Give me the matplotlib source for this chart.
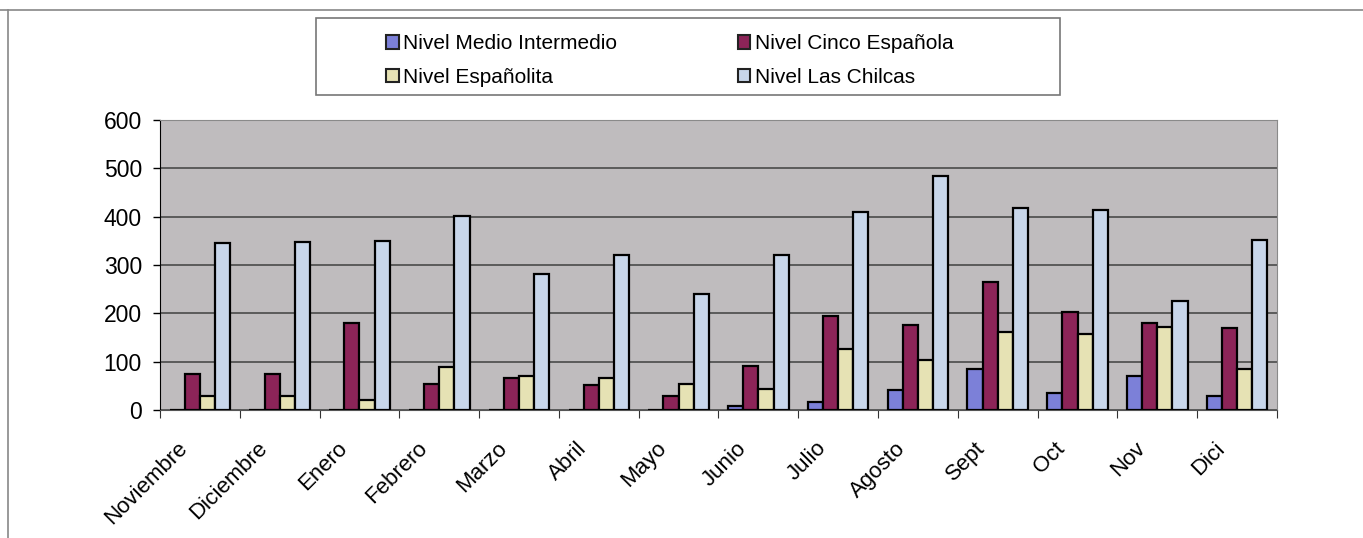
import matplotlib.pyplot as plt
import matplotlib.transforms as mtransforms
from matplotlib.patches import Rectangle, Patch
import numpy as np

plt.rcParams['font.family'] = ['Liberation Sans', 'DejaVu Sans']

meses = ['Noviembre', 'Diciembre', 'Enero', 'Febrero', 'Marzo', 'Abril', 'Mayo',
         'Junio', 'Julio', 'Agosto', 'Sept', 'Oct', 'Nov', 'Dici']
medio_intermedio = [0, 0, 0, 0, 0, 0, 0, 8, 17, 41, 85, 36, 70, 29]
cinco_espanola = [75, 75, 179, 54, 66, 52, 28, 91, 195, 175, 265, 203, 181, 170]
espanolita = [29, 29, 20, 90, 70, 66, 54, 43, 126, 104, 162, 157, 172, 85]
las_chilcas = [345, 347, 350, 402, 281, 320, 241, 320, 410, 485, 418, 414, 226, 352]

series = [
    ('Nivel Medio Intermedio', medio_intermedio, '#7c80d8'),
    ('Nivel Cinco Española', cinco_espanola, '#8c2458'),
    ('Nivel Españolita', espanolita, '#e6e2b4'),
    ('Nivel Las Chilcas', las_chilcas, '#c8d6ea'),
]

fig = plt.figure(figsize=(13.63, 5.38), dpi=100)
ax = fig.add_axes([160 / 1363, 128 / 538, 1117 / 1363, 290 / 538])
ax.set_facecolor('#bfbcbe')

x = np.arange(len(meses))
w = 0.19
for i, (name, vals, col) in enumerate(series):
    ax.bar(x + (i - 1.5) * w, vals, w, color=col, edgecolor='black',
           linewidth=1.6, zorder=3, label=name)

ax.set_xlim(-0.5, len(meses) - 0.5)
ax.set_ylim(0, 600)
ax.set_yticks(range(0, 601, 100))
ax.yaxis.grid(True, color='#4a4a4a', linewidth=1.2, zorder=1)
ax.tick_params(axis='y', labelsize=16.5, length=5, width=1, pad=8)

# category boundaries as major ticks, labels at the centres
ax.set_xticks(np.arange(-0.5, len(meses), 1))
ax.set_xticklabels([])
ax.tick_params(axis='x', which='major', length=6, color='#333333')
ax.set_xticks(x, minor=True)
ax.set_xticklabels(meses, minor=True, rotation=45, ha='right', fontsize=16)
ax.tick_params(axis='x', which='minor', length=0, pad=20)
offset = mtransforms.ScaledTranslation(-0.08, 0, fig.dpi_scale_trans)
for lab in ax.get_xticklabels(minor=True):
    lab.set_transform(lab.get_transform() + offset)

for s in ['top', 'right']:
    ax.spines[s].set_color('#8a8a8a')
ax.spines['left'].set_color('black')
ax.spines['bottom'].set_color('#555555')

# legend
handles = [Patch(facecolor=c, edgecolor='#222222', linewidth=1.5) for _, _, c in series]
labels = [n for n, _, _ in series]
order = [0, 2, 1, 3]
fig.legend([handles[k] for k in order], [labels[k] for k in order], ncol=2,
           loc='upper left', bbox_to_anchor=(376 / 1363, 1 - 24 / 538),
           frameon=False, fontsize=15, handlelength=0.6, handleheight=0.6,
           handletextpad=0.2, columnspacing=5.8, labelspacing=0.7,
           borderpad=0)
fig.patches.append(Rectangle((316 / 1363, 1 - 95 / 538), 744 / 1363, 77 / 538,
                             transform=fig.transFigure, fill=False,
                             edgecolor='#777777', linewidth=1.2))

# outer chart frame
fig.add_artist(plt.Line2D([0, 1], [1 - 10 / 538, 1 - 10 / 538],
                          transform=fig.transFigure, color='#888888', linewidth=1.2))
fig.add_artist(plt.Line2D([8 / 1363, 8 / 1363], [0, 1 - 10 / 538],
                          transform=fig.transFigure, color='#888888', linewidth=1.2))

fig.savefig('out.png', dpi=100)
